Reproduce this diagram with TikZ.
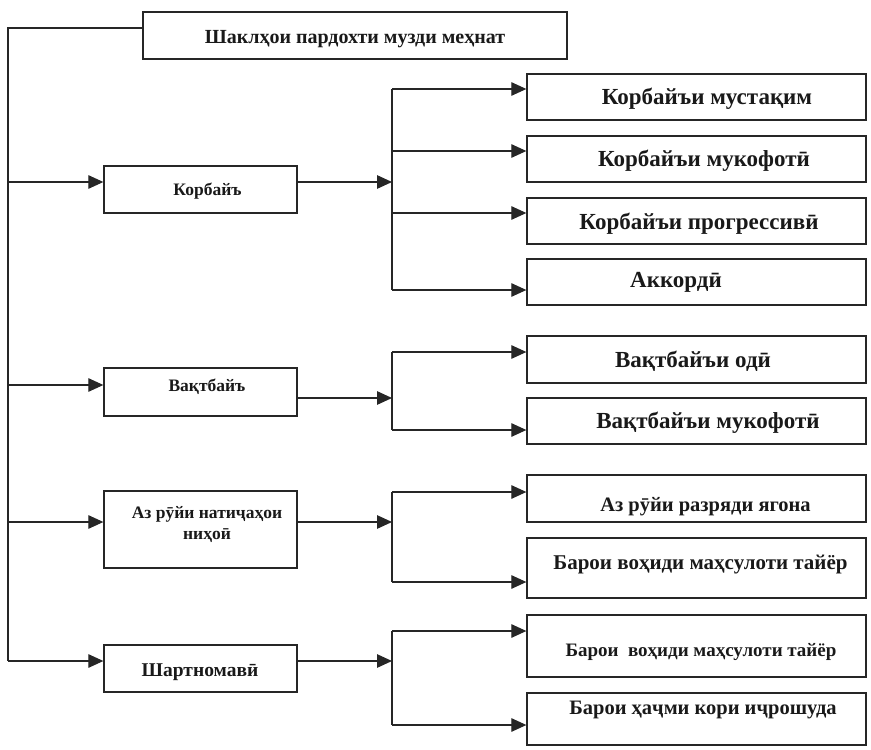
\documentclass[tikz,border=0pt]{standalone}
\usepackage{fontspec}
\setmainfont{Liberation Serif}
\usetikzlibrary{arrows.meta}
\begin{document}
\begin{tikzpicture}[x=1pt,y=-1pt,
  frame/.style={draw=black!85, line width=1.3pt, rectangle, inner sep=0pt},
  lvtwo/.style={frame, minimum width=193pt},
  lvthree/.style={frame, minimum width=339pt},
  ln/.style={draw=black!85, line width=1.2pt, line join=miter},
  arr/.style={ln, -{Triangle[length=15pt,width=13.5pt]}},
  txt/.style={inner sep=0pt, text=black!90, align=center},
  ttitle/.style={txt, font=\bfseries\fontsize{20}{24}\selectfont},
  ttwo/.style={txt, font=\bfseries\fontsize{17.5}{21}\selectfont},
  tthree/.style={txt, font=\bfseries\fontsize{23}{27}\selectfont},
  tthreeb/.style={txt, font=\bfseries\fontsize{20.5}{24}\selectfont}]
\useasboundingbox (0,0) rectangle (871,750);

% boxes
\node[frame, minimum width=424pt, minimum height=47pt] (title) at (355,35.5) {};
\node[ttitle] (titlet) at (355,39) {Шаклҳои пардохти музди меҳнат};

\node[lvtwo, minimum height=47pt] (kor) at (200.5,189.5) {};
\node[ttwo] (kort) at (207.5,191) {Корбайъ};
\node[lvtwo, minimum height=48pt] (vaq) at (200.5,392) {};
\node[ttwo] (vaqt) at (207,387) {Вақтбайъ};
\node[lvtwo, minimum height=77pt] (az) at (200.5,529.5) {};
\node[ttwo] (azt) at (207,524) {Аз рӯйи натиҷаҳои\\ниҳоӣ};
\node[lvtwo, minimum height=47pt] (sh) at (200.5,668.5) {};
\node[ttwo, font=\bfseries\fontsize{19.5}{23}\selectfont] (sht) at (200,672) {Шартномавӣ};

\node[lvthree, minimum height=46pt] (k1) at (696.5,97) {};
\node[tthree] (k1t) at (707,99) {Корбайъи мустақим};
\node[lvthree, minimum height=46pt] (k2) at (696.5,159) {};
\node[tthree] (k2t) at (704,161) {Корбайъи мукофотӣ};
\node[lvthree, minimum height=46pt] (k3) at (696.5,221) {};
\node[tthree] (k3t) at (699,224) {Корбайъи прогрессивӣ};
\node[lvthree, minimum height=46pt] (k4) at (696.5,282) {};
\node[tthree] (k4t) at (676,282) {Аккордӣ};

\node[lvthree, minimum height=47pt] (v1) at (696.5,359.5) {};
\node[tthree] (v1t) at (693,361) {Вақтбайъи одӣ};
\node[lvthree, minimum height=46pt] (v2) at (696.5,421) {};
\node[tthree] (v2t) at (708,423) {Вақтбайъи мукофотӣ};

\node[lvthree, minimum height=47pt] (a1) at (696.5,498.5) {};
\node[tthreeb] (a1t) at (705.5,507) {Аз рӯйи разряди ягона};
\node[lvthree, minimum height=60pt] (a2) at (696.5,568) {};
\node[tthreeb, font=\bfseries\fontsize{21}{25}\selectfont] (a2t) at (700.5,565) {Барои воҳиди маҳсулоти тайёр};

\node[lvthree, minimum height=62pt] (s1) at (696.5,646) {};
\node[tthreeb, font=\bfseries\fontsize{19}{23}\selectfont] (s1t) at (701,652) {Барои\ \ воҳиди маҳсулоти тайёр};
\node[lvthree, minimum height=52pt] (s2) at (696.5,719) {};
\node[tthreeb] (s2t) at (703,710) {Барои ҳаҷми кори иҷрошуда};

% trunk
\coordinate (t0) at (8,28);
\coordinate (t1) at (8,182);
\coordinate (t2) at (8,385);
\coordinate (t3) at (8,522);
\coordinate (t4) at (8,661);
\draw[ln] (t0 -| title.west) -- (t0) -- (t4);
\draw[arr] (t1) -- (t1 -| kor.west);
\draw[arr] (t2) -- (t2 -| vaq.west);
\draw[arr] (t3) -- (t3 -| az.west);
\draw[arr] (t4) -- (t4 -| sh.west);

% Korbay group
\coordinate (kin) at (392,182);
\coordinate (k1b) at (392,89);
\coordinate (k2b) at (392,151);
\coordinate (k3b) at (392,213);
\coordinate (k4b) at (392,290);
\draw[arr] (kin -| kor.east) -- (kin);
\draw[ln] (k1b) -- (k4b);
\draw[arr] (k1b) -- (k1b -| k1.west);
\draw[arr] (k2b) -- (k2b -| k2.west);
\draw[arr] (k3b) -- (k3b -| k3.west);
\draw[arr] (k4b) -- (k4b -| k4.west);

% Vaqtbay group
\coordinate (vin) at (392,398);
\coordinate (v1b) at (392,352);
\coordinate (v2b) at (392,430);
\draw[arr] (vin -| vaq.east) -- (vin);
\draw[ln] (v1b) -- (v2b);
\draw[arr] (v1b) -- (v1b -| v1.west);
\draw[arr] (v2b) -- (v2b -| v2.west);

% Az ruyi group
\coordinate (ain) at (392,522);
\coordinate (a1b) at (392,492);
\coordinate (a2b) at (392,582);
\draw[arr] (ain -| az.east) -- (ain);
\draw[ln] (a1b) -- (a2b);
\draw[arr] (a1b) -- (a1b -| a1.west);
\draw[arr] (a2b) -- (a2b -| a2.west);

% Shartnomavi group
\coordinate (sin) at (392,661);
\coordinate (s1b) at (392,631);
\coordinate (s2b) at (392,725);
\draw[arr] (sin -| sh.east) -- (sin);
\draw[ln] (s1b) -- (s2b);
\draw[arr] (s1b) -- (s1b -| s1.west);
\draw[arr] (s2b) -- (s2b -| s2.west);
\end{tikzpicture}
\end{document}
